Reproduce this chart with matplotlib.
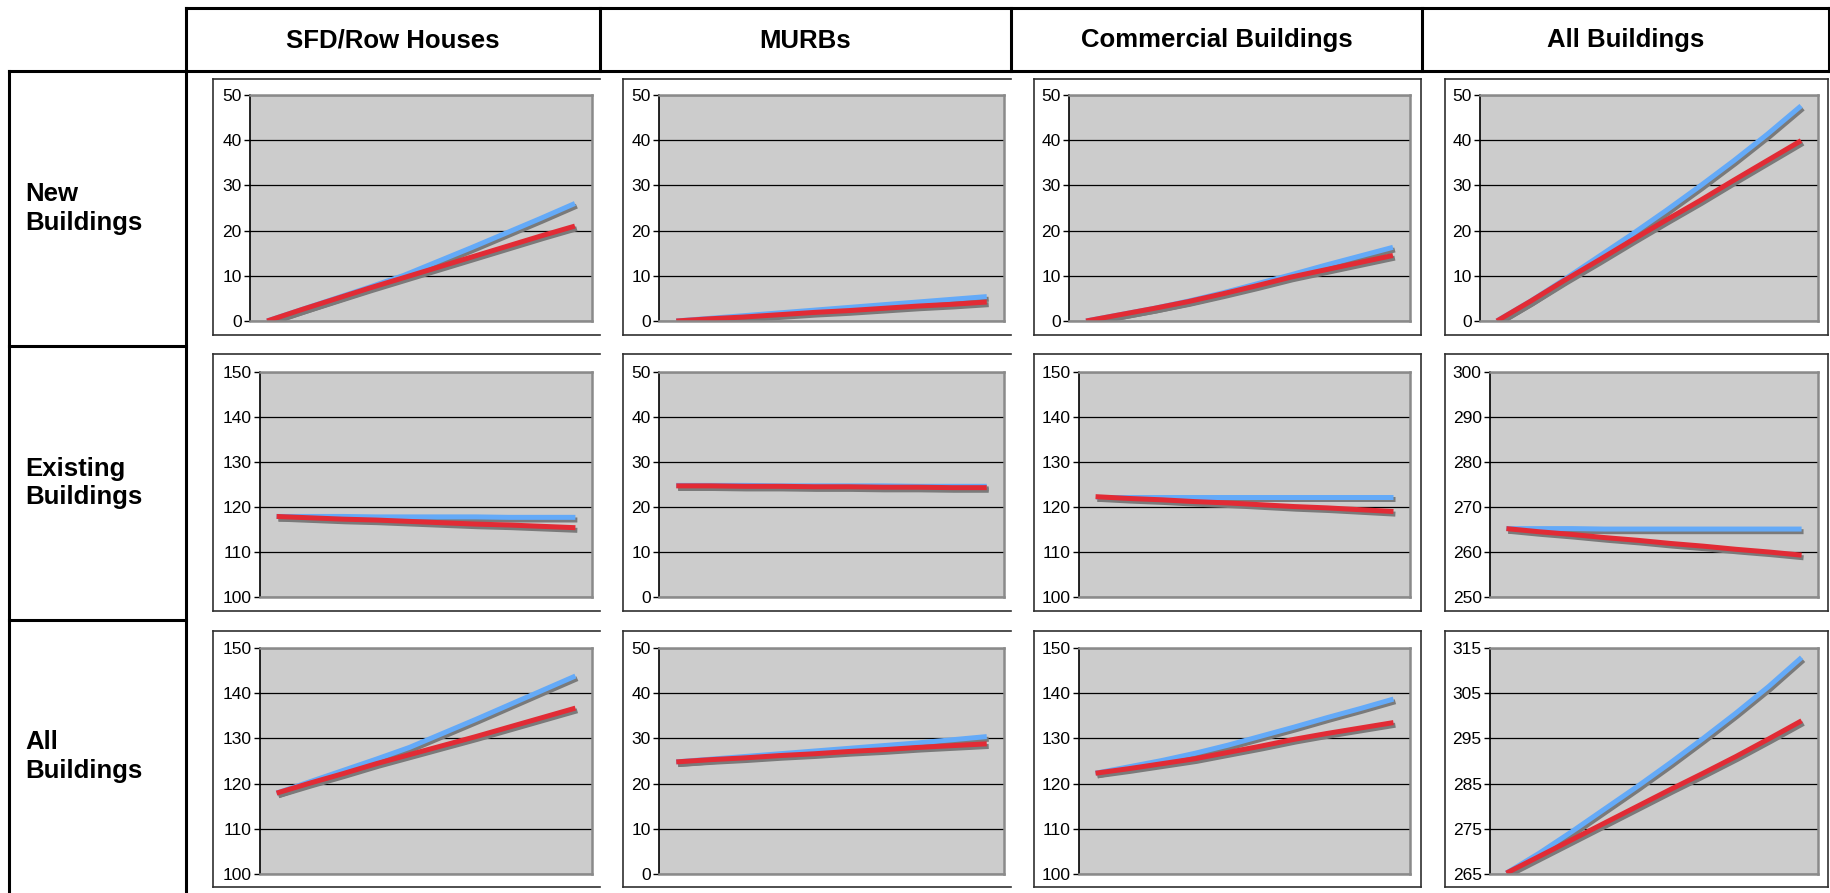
import matplotlib
matplotlib.use('Agg')
import matplotlib.pyplot as plt
import matplotlib.patheffects as pe

plt.rcParams['font.family'] = ['Liberation Sans', 'DejaVu Sans']

# ---------------- data ----------------
col_titles = ['SFD/Row Houses', 'MURBs', 'Commercial Buildings', 'All Buildings']
row_titles = ['New\nBuildings', 'Existing\nBuildings', 'All\nBuildings']
periods = list(range(10))

# Row 1: New buildings
new_sfd_blue = [0, 2.5, 5.0, 7.5, 10.1, 13.2, 16.3, 19.5, 22.7, 26.0]
new_sfd_red = [0, 2.5, 4.9, 7.3, 9.6, 11.9, 14.2, 16.5, 18.8, 21.0]
new_murb_blue = [0, 0.6, 1.2, 1.8, 2.4, 3.0, 3.6, 4.2, 4.8, 5.4]
new_murb_red = [0, 0.5, 0.9, 1.4, 1.9, 2.3, 2.8, 3.3, 3.7, 4.2]
new_com_blue = [0, 1.4, 2.8, 4.4, 6.2, 8.2, 10.2, 12.3, 14.3, 16.3]
new_com_red = [0, 1.4, 2.8, 4.3, 6.0, 7.8, 9.7, 11.3, 12.9, 14.5]
new_all_blue = [0, 4.4, 9.2, 14.2, 19.2, 24.4, 29.8, 35.4, 41.3, 47.6]
new_all_red = [0, 4.4, 9.0, 13.4, 17.9, 22.3, 26.6, 31.1, 35.5, 39.9]

# Row 2: Existing buildings
ex_sfd_blue = [117.9, 117.9, 117.9, 117.8, 117.8, 117.8, 117.8, 117.7, 117.7, 117.7]
ex_sfd_red = [117.9, 117.6, 117.3, 117.1, 116.8, 116.5, 116.2, 116.0, 115.7, 115.4]
ex_murb_blue = [24.8, 24.8, 24.8, 24.7, 24.7, 24.7, 24.7, 24.6, 24.6, 24.6]
ex_murb_red = [24.7, 24.7, 24.6, 24.6, 24.5, 24.5, 24.4, 24.4, 24.3, 24.3]
ex_com_blue = [122.3, 122.3, 122.3, 122.3, 122.3, 122.3, 122.3, 122.3, 122.3, 122.3]
ex_com_red = [122.3, 121.9, 121.6, 121.2, 120.9, 120.5, 120.1, 119.8, 119.4, 119.0]
ex_all_blue = [265.2, 265.2, 265.2, 265.1, 265.1, 265.1, 265.1, 265.1, 265.1, 265.1]
ex_all_red = [265.2, 264.5, 263.9, 263.2, 262.6, 261.9, 261.3, 260.6, 260.0, 259.3]

# Row 3: All buildings
all_sfd_blue = [117.9, 120.4, 122.9, 125.4, 128.0, 131.1, 134.2, 137.4, 140.6, 143.8]
all_sfd_red = [117.9, 120.1, 122.2, 124.4, 126.4, 128.4, 130.4, 132.5, 134.6, 136.7]
all_murb_blue = [24.8, 25.4, 26.0, 26.6, 27.2, 27.8, 28.4, 29.0, 29.7, 30.4]
all_murb_red = [24.8, 25.3, 25.7, 26.2, 26.6, 27.1, 27.5, 28.0, 28.4, 28.8]
all_com_blue = [122.3, 123.7, 125.1, 126.7, 128.5, 130.5, 132.5, 134.6, 136.6, 138.7]
all_com_red = [122.3, 123.3, 124.4, 125.5, 126.9, 128.3, 129.8, 131.1, 132.3, 133.5]
all_all_blue = [265.2, 269.6, 274.4, 279.4, 284.4, 289.6, 295.0, 300.6, 306.5, 312.9]
all_all_red = [265.2, 268.9, 272.6, 276.3, 280.0, 283.7, 287.3, 291.0, 294.9, 298.9]

series = [
    [(new_sfd_blue, new_sfd_red), (new_murb_blue, new_murb_red),
     (new_com_blue, new_com_red), (new_all_blue, new_all_red)],
    [(ex_sfd_blue, ex_sfd_red), (ex_murb_blue, ex_murb_red),
     (ex_com_blue, ex_com_red), (ex_all_blue, ex_all_red)],
    [(all_sfd_blue, all_sfd_red), (all_murb_blue, all_murb_red),
     (all_com_blue, all_com_red), (all_all_blue, all_all_red)],
]

# y tick labels per panel
ticks_0_50 = [0, 10, 20, 30, 40, 50]
ticks_100_150 = [100, 110, 120, 130, 140, 150]
ticks_250_300 = [250, 260, 270, 280, 290, 300]
ticks_265_315 = [265, 275, 285, 295, 305, 315]
yticks = [
    [ticks_0_50, ticks_0_50, ticks_0_50, ticks_0_50],
    [ticks_100_150, ticks_0_50, ticks_100_150, ticks_250_300],
    [ticks_100_150, ticks_0_50, ticks_100_150, ticks_265_315],
]

BLUE = '#64AAF8'
RED = '#E22B35'
SHADOW = '#7a7a7a'

# ---------------- layout (pixels) ----------------
W, H = 1831, 893
fig = plt.figure(figsize=(W / 100, H / 100), dpi=100)
bg = fig.add_axes([0, 0, 1, 1])
bg.set_xlim(0, W)
bg.set_ylim(H, 0)
bg.axis('off')

TL = 2.2  # table line width (pt)
lab_l, lab_r = 9, 186
col_edges = [186, 600, 1011, 1422, 1829]
head_t, head_b = 8, 71
row_edges = [71, 346, 620, 893]


def seg(x0, y0, x1, y1, lw=TL, c='black'):
    bg.plot([x0, x1], [y0, y1], color=c, lw=lw, solid_capstyle='projecting')


# header box
seg(lab_r, head_t, col_edges[-1], head_t)
seg(lab_l, head_b, col_edges[-1], head_b)
for x in col_edges[1:]:
    seg(x, head_t, x, head_b)
seg(lab_r, head_t, lab_r, H + 5)
# label column
seg(lab_l, head_b, lab_l, H + 5)
for y in row_edges[1:3]:
    seg(lab_l, y, lab_r, y)

for j, t in enumerate(col_titles):
    bg.text((col_edges[j] + col_edges[j + 1]) / 2, (head_t + head_b) / 2 + 1, t,
            ha='center', va='center', fontsize=18.5, fontweight='bold')
for i, t in enumerate(row_titles):
    bg.text(25, (row_edges[i] + row_edges[i + 1]) / 2, t,
            ha='left', va='center', fontsize=18.5, fontweight='bold', linespacing=1.25)

frame_l = [213, 623, 1034, 1445]
frame_r = [600, 1011, 1421, 1828]
frame_right_visible = [False, False, True, True]
plot_l = [250, 659, 1069, 1480]
plot_r = [592, 1004, 1410, 1818]
frame_t = [79, 354, 631]
frame_b = [335, 611, 887]
plot_t = [95, 372, 648]
plot_b = [321, 597, 874]

FC = '#303030'
for i in range(3):
    for j in range(4):
        fl, fr, ft, fb = frame_l[j], frame_r[j], frame_t[i], frame_b[i]
        seg(fl, ft, fr, ft, lw=1.2, c=FC)
        seg(fl, fb, fr, fb, lw=1.2, c=FC)
        seg(fl, ft, fl, fb, lw=1.2, c=FC)
        if frame_right_visible[j]:
            seg(fr, ft, fr, fb, lw=1.2, c=FC)

        tk = yticks[i][j]
        pl = plot_l[j] + (10 if tk[-1] >= 100 else 0)
        ax = fig.add_axes([pl / W, 1 - plot_b[i] / H,
                           (plot_r[j] - pl) / W, (plot_b[i] - plot_t[i]) / H])
        ax.set_facecolor('#CCCCCC')
        blue, red = series[i][j]
        for vals, col in ((blue, BLUE), (red, RED)):
            ax.plot(periods, vals, color=col, lw=3.6, solid_capstyle='butt',
                    path_effects=[pe.SimpleLineShadow(offset=(1.4, -1.9), shadow_color=SHADOW,
                                                      alpha=1.0, rho=1.0),
                                  pe.Normal()])
        ax.set_xlim(-0.5, 9.5)
        ax.set_ylim(tk[0], tk[-1])
        ax.set_yticks(tk)
        ax.set_xticks([])
        ax.set_axisbelow(True)
        ax.grid(axis='y', color='black', lw=0.9)
        for s in ('top', 'right', 'bottom'):
            ax.spines[s].set_color('#8a8a8a')
            ax.spines[s].set_linewidth(1.8)
        ax.spines['left'].set_color('black')
        ax.spines['left'].set_linewidth(1.2)
        ax.tick_params(axis='y', direction='out', length=4, width=1.0, pad=2,
                       labelsize=12.5, colors='black')

fig.savefig('out.png', dpi=100)
